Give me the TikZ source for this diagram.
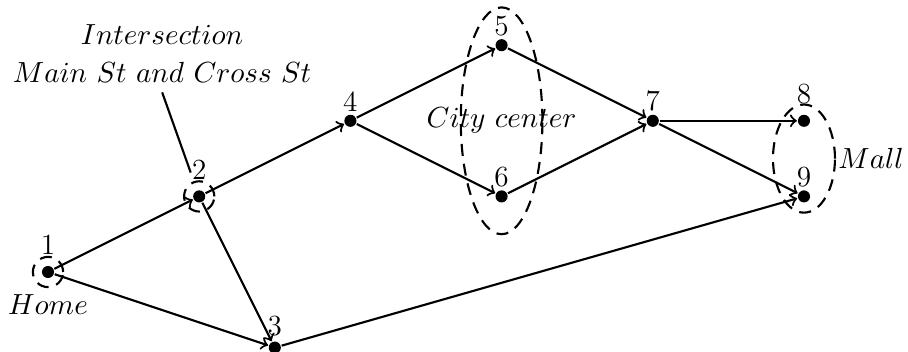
\documentclass[tikz,border=0pt]{standalone}
\usepackage{amsmath,amssymb}
\usepackage{tikz}
\usetikzlibrary{shapes,arrows}

\begin{document}
\begin{tikzpicture}[>=to, thick, font=\fontsize{11}{14.3}\selectfont,
    vertex/.style={circle, fill, inner sep=0pt, minimum size=0.16cm},
    region/.style={draw, dashed, dash pattern=on 4.5pt off 3pt, ellipse, inner sep=0pt},
    every label/.style={inner sep=0.5pt}]
    \useasboundingbox (-0.635,-1.058) rectangle (11.376,3.598);

    % places
    \node [vertex, label={[label distance=0.11cm]above:1}, label={[label distance=0.18cm]below:$Home$}] (n1) at (0,0) {};
    \node [vertex, label={[label distance=0.1cm]above:2}] (n2) at (2,1) {};
    \node [vertex, label={[label distance=0.03cm]above:3}] (n3) at (3,-1) {};
    \node [vertex, label=above:4] (n4) at (4,2) {};
    \node [vertex, label=above:5] (n5) at (6,3) {};
    \node [vertex, label=above:6] (n6) at (6,1) {};
    \node [vertex, label=above:7] (n7) at (8,2) {};
    \node [vertex, label={[label distance=0.1cm]above:8}] (n8) at (10,2) {};
    \node [vertex, label=above:9] (n9) at (10,1) {};

    % regions
    \node [region, minimum width=0.4cm, minimum height=0.4cm] (home) at (n1) {};
    \node [region, minimum width=0.4cm, minimum height=0.4cm] (cross) at (n2) {};
    \node [region, minimum width=1.08cm, minimum height=3cm] (city) at (6,2) {};
    \node at (city.center) (citytext) {$City\ center$};
    \node [region, minimum width=0.82cm, minimum height=1.43cm, label=right:$Mall$] (mall) at (10,1.5) {};

    \node [align=center] (inter) at (1.51,2.89) {$Intersection$\\$Main\ St\ and\ Cross\ St$};
    \draw [shorten >=0.24cm] (inter.south) -- (n2);

    % roads
    \draw [->] (n1) -- (n2);
    \draw [->] (n1) -- (n3);
    \draw [->] (n2) -- (n3);
    \draw [->] (n2) -- (n4);
    \draw [->] (n3) -- (n9);
    \draw [->] (n4) -- (n5);
    \draw [->] (n4) -- (n6);
    \draw [->] (n5) -- (n7);
    \draw [->] (n6) -- (n7);
    \draw [->] (n7) -- (n8);
    \draw [->] (n7) -- (n9);
\end{tikzpicture}
\end{document}
